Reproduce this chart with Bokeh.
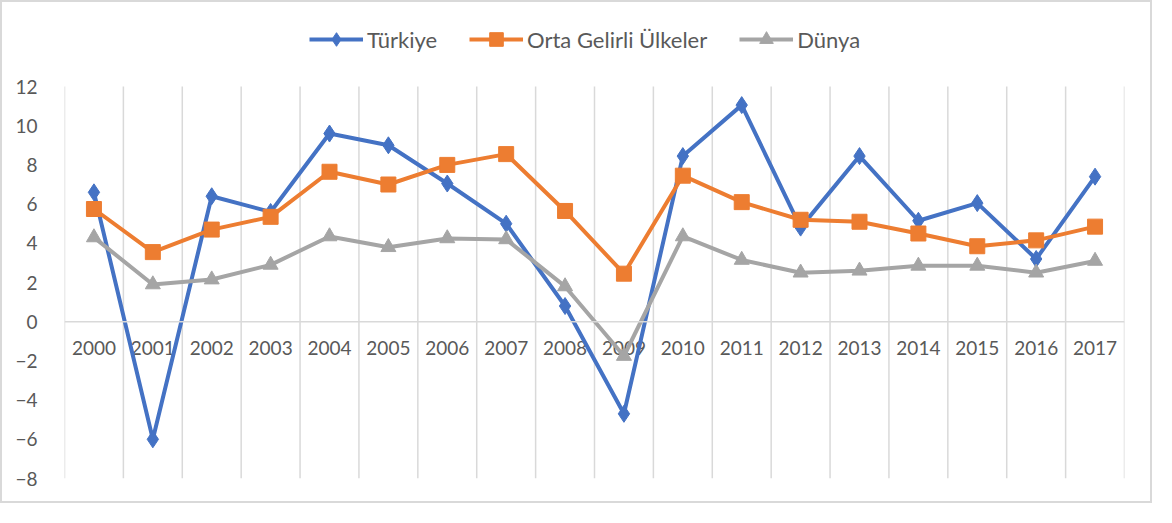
from bokeh.plotting import figure
from bokeh.models import Legend, LegendItem, FixedTicker, Span, ColumnDataSource
from bokeh.core.properties import value
from bokeh.embed import file_html
from bokeh.resources import INLINE

years = ["2000", "2001", "2002", "2003", "2004", "2005", "2006", "2007", "2008",
         "2009", "2010", "2011", "2012", "2013", "2014", "2015", "2016", "2017"]
turkiye = [6.6, -6.0, 6.4, 5.6, 9.6, 9.0, 7.05, 5.0, 0.8, -4.7, 8.45, 11.05, 4.8,
           8.45, 5.15, 6.05, 3.2, 7.4]
orta = [5.75, 3.55, 4.7, 5.35, 7.65, 7.0, 8.0, 8.55, 5.65, 2.45, 7.45, 6.1, 5.2,
        5.1, 4.5, 3.85, 4.15, 4.85]
dunya = [4.3, 1.9, 2.15, 2.9, 4.35, 3.8, 4.25, 4.2, 1.8, -1.75, 4.35, 3.15, 2.5,
         2.6, 2.85, 2.85, 2.5, 3.1]
y_ticks = [-8, -6, -4, -2, 0, 2, 4, 6, 8, 10, 12]

idx = list(range(len(years)))
FONT = "Lato"
GREY_TXT = "#595959"
GRID = "#d9d9d9"

# layout: axis range -8..12 spans 392 px; frame extends above it for the legend
Y_MIN, Y_MAX = y_ticks[0], y_ticks[-1]
PX_AXIS = 392
TOP_EXTRA = 76
W, H = 1152, 503
BOTTOM = 27
frame_h = PX_AXIS + TOP_EXTRA
y_top = Y_MAX + TOP_EXTRA * (Y_MAX - Y_MIN) / PX_AXIS

p = figure(width=W, height=H, output_backend="svg", toolbar_location=None,
           x_range=(-0.5, len(years) - 0.5), y_range=(Y_MIN, y_top),
           min_border_left=62, min_border_right=30, min_border_top=H - BOTTOM - frame_h,
           min_border_bottom=BOTTOM)
p.outline_line_color = None
p.styles = {"border": "2px solid #d9d9d9"}

# grids: vertical lines at category boundaries, only over the axis span
p.xgrid.grid_line_color = None
p.ygrid.grid_line_color = None
bounds = [i - 0.5 for i in range(len(years) + 1)]
p.segment(x0=bounds, y0=[Y_MIN] * len(bounds), x1=bounds, y1=[Y_MAX] * len(bounds),
          line_color=GRID, line_width=1.5)
p.add_layout(Span(location=0, dimension="width", line_color=GRID, line_width=1.5))

p.xaxis.visible = False
p.yaxis.ticker = FixedTicker(ticks=y_ticks)
p.yaxis.axis_line_color = None
p.yaxis.major_tick_line_color = None
p.yaxis.minor_tick_line_color = None
p.yaxis.major_label_text_font = FONT
p.yaxis.major_label_text_font_size = "19px"
p.yaxis.major_label_text_color = GREY_TXT
p.yaxis.major_label_standoff = 21

# x labels just below the zero line
src_lbl = ColumnDataSource(dict(x=idx, y=[0] * len(years), t=years))
p.text(x="x", y="y", text="t", source=src_lbl, y_offset=26,
       text_align="center", text_baseline="middle",
       text_font=value(FONT), text_font_size="19px", text_color=GREY_TXT)

series = [
    ("Türkiye", turkiye, "#4472C4", "diamond", 17),
    ("Orta Gelirli Ülkeler", orta, "#ED7D31", "square", 15),
    ("Dünya", dunya, "#A5A5A5", "triangle", 15),
]
items = []
for name, vals, col, mk, sz in series:
    l = p.line(idx, vals, line_color=col, line_width=4)
    s = p.scatter(idx, vals, marker=mk, size=sz, fill_color=col, line_color=col)
    items.append(LegendItem(label=name, renderers=[l, s]))

legend = Legend(items=items, orientation="horizontal", location=(245, 422),
                glyph_width=54, glyph_height=34, label_text_font=FONT,
                label_text_font_size="22px", label_text_color=GREY_TXT,
                label_height=34, spacing=32, padding=0, margin=0,
                border_line_color=None, background_fill_alpha=0, label_standoff=4)
p.add_layout(legend, "center")

open("out.html", "w").write(file_html(p, INLINE))
